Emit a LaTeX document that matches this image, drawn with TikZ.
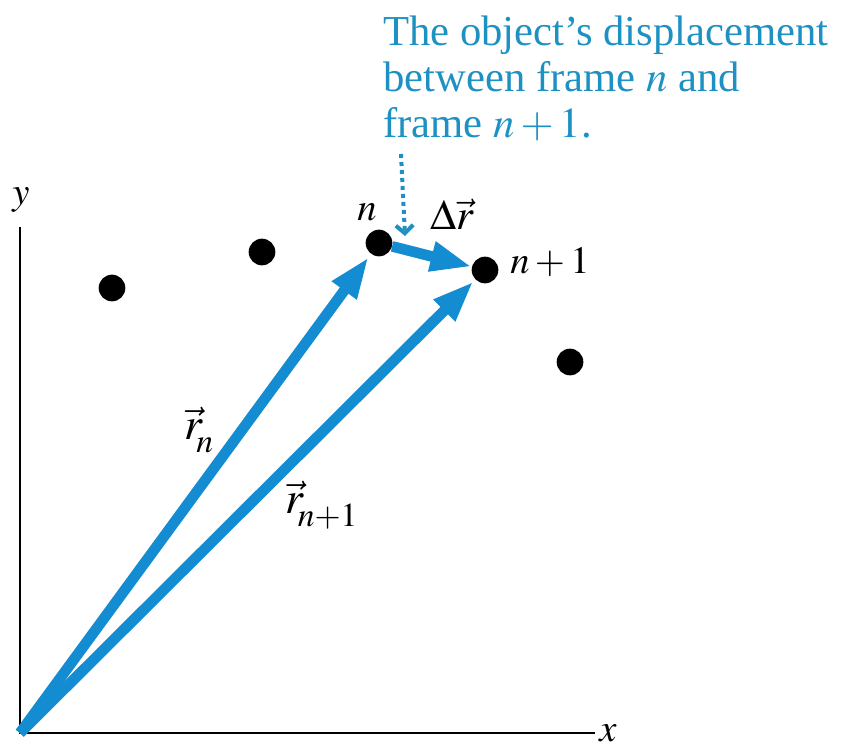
\documentclass[tikz,border=0pt]{standalone}
\usepackage{mathptmx}
\usepackage{fontspec}
\setmainfont{Liberation Serif}
\usetikzlibrary{arrows.meta}
\definecolor{vecblue}{RGB}{20,140,210}
\definecolor{noteblue}{RGB}{30,145,195}

\begin{document}
\begin{tikzpicture}[x=0.75pt, y=-0.75pt,
    dot/.style={circle, fill=black, inner sep=0pt, minimum size=20pt},
    vec/.style={vecblue, line width=8pt, -{Triangle[length=31pt, width=21pt]}},
    lbl/.style={font=\fontsize{29}{31}\selectfont},
    vlbl/.style={font=\fontsize{34}{36}\selectfont}]
    \useasboundingbox (0,0) rectangle (845,749);
    % axes
    \coordinate (O) at (20,733);
    \coordinate (ytop) at (20,227);
    \coordinate (xend) at (595,733);
    \draw[line width=1.5pt] (ytop) -- (O) -- (xend);
    \node[lbl] (ylab) at (21,200) {$y$};
    \node[lbl] (xlab) at (608,733) {$x$};
    % the object, frame by frame
    \foreach \name/\pos in {p1/{(112,288)}, p2/{(262,252)}, p5/{(570,362)}}
        \node[dot] (\name) at \pos {};
    \node[dot] (pn) at (379,243) {};
    \node[dot] (pm) at (485,270) {};
    % position vectors and displacement
    \draw[vec, shorten >=3pt] (O) -- (pn);
    \draw[vec, shorten >=2pt] (O) -- (pm);
    \draw[vec] (pn) -- (pm);
    \node[lbl] (nlab) at (367,212) {$n$};
    \node[lbl] (mlab) at (550,262) {$n+1$};
    \node[lbl, font=\fontsize{32}{34}\selectfont] (dlab) at (452,214) {$\Delta\vec{r}$};
    \node[vlbl] (rn) at (199,430)
        {$\vec{r}_{\mkern-3mu\lower5pt\hbox{$\scriptstyle n$}}$};
    \node[vlbl] (rm) at (322,505)
        {$\vec{r}_{\mkern-3mu\lower5pt\hbox{$\scriptstyle n+1$}}$};
    % note with dotted pointer
    \node[noteblue, anchor=north west, align=left, inner sep=0pt,
        font=\fontsize{32}{34.5}\selectfont] (note) at (383,16)
        {The object’s displacement\\between frame $n$ and\\frame $n+1$.};
    \coordinate (tail) at (401,154);
    \coordinate (head) at (405,236);
    \draw[noteblue, line width=3pt, dash pattern=on 3pt off 3pt,
        -{Straight Barb[length=6pt, width=13pt]}] (tail) -- (head);
\end{tikzpicture}
\end{document}
